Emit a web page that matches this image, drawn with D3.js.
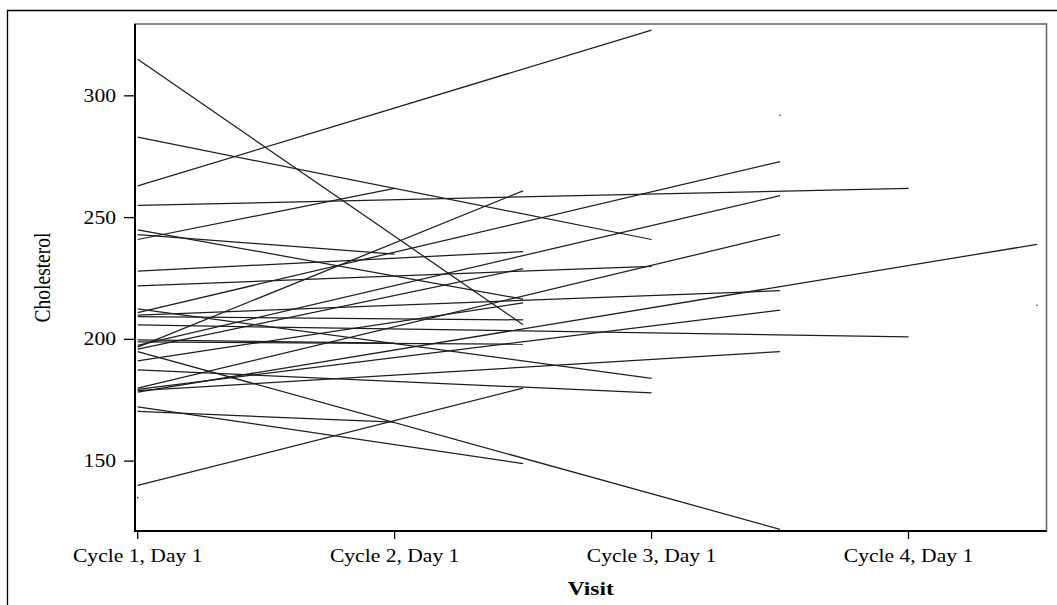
<!DOCTYPE html>
<html>
<head>
<meta charset="utf-8">
<script src="https://cdn.jsdelivr.net/npm/d3@7"></script>
<style>
  html, body { margin: 0; padding: 0; background: #fff; }
  svg { display: block; }
  text { font-family: "Liberation Serif", "Times New Roman", serif; fill: #000; }
</style>
</head>
<body>
<svg id="chart" width="1057" height="605"></svg>
<script>
// Visit labels on the x axis (visit number 1..4)
const visitLabels = ["Cycle 1, Day 1", "Cycle 2, Day 1", "Cycle 3, Day 1", "Cycle 4, Day 1"];
const visitNumbers = [1, 2, 3, 4];
const yTickValues = [150, 200, 250, 300];

// One entry per subject: cholesterol at Cycle 1, Day 1 and at the last visit
const baselineValue = [315, 263, 283, 255, 241, 243, 245, 228, 222, 211, 197.5, 180, 178.3, 210,
                       205.9, 179.5, 178.9, 212.5, 187.5, 196.8, 196, 209.3, 199, 199.8, 140, 172.3, 195, 170.4, 191.2];
const lastVisit     = [2.5, 3, 3, 4, 2, 2, 2.5, 2.5, 3, 3.5, 3.5, 3.5, 4.5, 3.5,
                       4, 3.5, 3.5, 3, 3, 2.5, 2.5, 2.5, 2.5, 2, 2.5, 2.5, 3.5, 2, 2.5];
const lastValue     = [206, 327, 241, 262, 262, 235, 216.5, 236, 230, 273, 259, 243, 239, 220,
                       201, 212, 195, 184, 178, 261, 229, 208, 198, 198.5, 180, 149, 122, 166, 215];

// Subjects with a single measurement
const singleVisit = [1, 3.5, 4.5];
const singleValue = [135, 292, 214];

const svg = d3.select("#chart");
const plot = { left: 135, right: 1046.5, top: 24, bottom: 531 };

const x = d3.scaleLinear().domain([0.9895, 4.537]).range([plot.left, plot.right]);
const y = d3.scaleLinear().domain([121.3, 329.5]).range([plot.bottom, plot.top]);

const stretch = 1.2;

// Outer frame
svg.append("path")
  .attr("d", "M7.5,605 V10.5 H1057")
  .attr("fill", "none")
  .attr("stroke", "#000")
  .attr("stroke-width", 1.3);

// Plot frame (top and right edges)
svg.append("rect")
  .attr("x", plot.left).attr("y", plot.top)
  .attr("width", plot.right - plot.left).attr("height", plot.bottom - plot.top)
  .attr("fill", "none")
  .attr("stroke", "#6a6a6a")
  .attr("stroke-width", 1.6);

// Subject profiles
const subjects = baselineValue.map((v, i) => [[1, v], [lastVisit[i], lastValue[i]]]);
const line = d3.line().x(d => x(d[0])).y(d => y(d[1]));
svg.append("g")
  .selectAll("path")
  .data(subjects)
  .join("path")
  .attr("d", line)
  .attr("fill", "none")
  .attr("stroke", "#1e1e1e")
  .attr("stroke-width", 1.25);

svg.append("g")
  .selectAll("circle")
  .data(singleVisit.map((v, i) => [v, singleValue[i]]))
  .join("circle")
  .attr("cx", d => x(d[0]))
  .attr("cy", d => y(d[1]))
  .attr("r", 0.8)
  .attr("fill", "#222");

// Y axis
const yAxis = svg.append("g").attr("transform", `translate(${plot.left},0)`);
yAxis.append("line")
  .attr("x1", 0).attr("x2", 0).attr("y1", plot.top).attr("y2", plot.bottom + 1)
  .attr("stroke", "#000").attr("stroke-width", 2);
const yt = yAxis.selectAll("g.tick").data(yTickValues).join("g")
  .attr("class", "tick")
  .attr("transform", d => `translate(0,${y(d)})`);
yt.append("line").attr("x1", -11).attr("x2", 0).attr("stroke", "#000").attr("stroke-width", 1.3);
yt.append("text")
  .attr("transform", `translate(-19,0) scale(${stretch},1)`)
  .attr("text-anchor", "end")
  .attr("dy", "0.34em")
  .attr("font-size", 18)
  .text(d => d);

// X axis
const xAxis = svg.append("g").attr("transform", `translate(0,${plot.bottom})`);
xAxis.append("line")
  .attr("x1", plot.left - 1).attr("x2", plot.right).attr("y1", 0).attr("y2", 0)
  .attr("stroke", "#000").attr("stroke-width", 2);
const xt = xAxis.selectAll("g.tick").data(visitNumbers).join("g")
  .attr("class", "tick")
  .attr("transform", d => `translate(${x(d)},0)`);
xt.append("line").attr("y1", 0).attr("y2", 8).attr("stroke", "#000").attr("stroke-width", 1.3);
xt.append("text")
  .attr("transform", `translate(0,31) scale(${stretch},1)`)
  .attr("text-anchor", "middle")
  .attr("font-size", 18)
  .text((d, i) => visitLabels[i]);

// Axis titles
svg.append("text")
  .attr("transform", `translate(${(plot.left + plot.right) / 2},595) scale(${stretch},1)`)
  .attr("text-anchor", "middle")
  .attr("font-size", 19.5)
  .attr("font-weight", "bold")
  .text("Visit");

svg.append("text")
  .attr("transform", `translate(50,${(plot.top + plot.bottom) / 2}) scale(${stretch},1) rotate(-90)`)
  .attr("text-anchor", "middle")
  .attr("font-size", 19.5)
  .text("Cholesterol");
</script>
</body>
</html>
